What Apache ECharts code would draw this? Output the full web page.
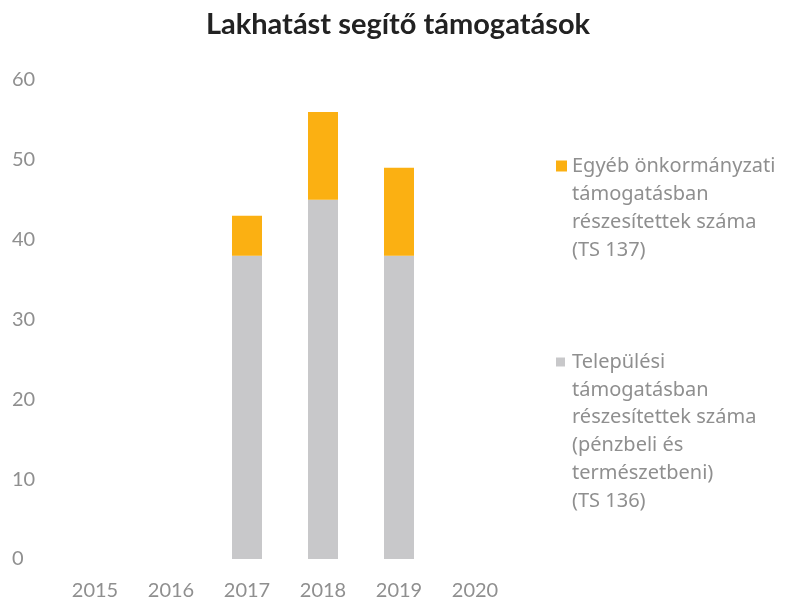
<!DOCTYPE html>
<html>
<head>
<meta charset="utf-8">
<script src="https://cdn.jsdelivr.net/npm/echarts@6/dist/echarts.min.js"></script>
<style>
html, body { margin: 0; padding: 0; background: #fff; }
#main { width: 786px; height: 601px; }
</style>
</head>
<body>
<div id="main"></div>
<script>
// adatok
var evek = ['2015', '2016', '2017', '2018', '2019', '2020'];
var telepulesi = [null, null, 38, 45, 38, null];
var egyeb = [null, null, 5, 11, 11, null];
var nevTelepulesi = 'Települési\ntámogatásban\nrészesítettek száma\n(pénzbeli és\ntermészetbeni)\n(TS 136)';
var nevEgyeb = 'Egyéb önkormányzati\ntámogatásban\nrészesítettek száma\n(TS 137)';

var szinTelepulesi = '#c8c8ca';
var szinEgyeb = '#fbb012';
var betu = 'Lato, "Noto Sans", sans-serif';
var jelBetu = '"Noto Sans", sans-serif';

var myChart = echarts.init(document.getElementById('main'));

// jelmagyarazat: a negyzet az elso sor elott, a tobbi sor behuzva
function jelmagyarazat(nev, szin, top, sorMagassag, meret) {
	return {
		data: [nev],
		orient: 'vertical',
		left: 551,
		top: top,
		padding: 0,
		itemWidth: 0,
		itemHeight: 9,
		icon: 'none',
		selectedMode: false,
		formatter: function (n) {
			return n.split('\n').map(function (sor, i) {
				return (i === 0 ? '{sq|}{gap|}' : '{ind|}') + '{t|' + sor + '}';
			}).join('\n');
		},
		textStyle: {
			padding: 0,
			rich: {
				sq: { width: meret, height: meret, backgroundColor: szin },
				gap: { width: 16 - meret },
				ind: { width: 16 },
				t: {
					fontFamily: jelBetu,
					fontSize: 20,
					color: '#8f8f8f',
					lineHeight: sorMagassag
				}
			}
		}
	};
}

var option = {
	animation: false,
	title: {
		text: 'Lakhatást segítő támogatások',
		left: 393,
		textAlign: 'center',
		top: 5,
		textStyle: {
			fontFamily: betu,
			fontSize: 29,
			fontWeight: 'bold',
			color: '#222'
		}
	},
	legend: [
		jelmagyarazat(nevEgyeb, szinEgyeb, 156, 28, 11),
		jelmagyarazat(nevTelepulesi, szinTelepulesi, 352, 27.8, 9)
	],
	grid: {
		left: 57,
		right: 273,
		top: 80,
		bottom: 40
	},
	xAxis: {
		type: 'category',
		data: evek,
		axisLine: { show: false },
		axisTick: { show: false },
		axisLabel: {
			margin: 22,
			fontFamily: betu,
			fontSize: 20,
			color: '#8f8f8f'
		}
	},
	yAxis: {
		type: 'value',
		min: 0,
		max: 60,
		interval: 10,
		splitLine: { show: false },
		axisLine: { show: false },
		axisTick: { show: false },
		axisLabel: {
			align: 'left',
			margin: 45,
			fontFamily: betu,
			fontSize: 20,
			color: '#8f8f8f'
		}
	},
	series: [{
		name: nevTelepulesi,
		type: 'bar',
		stack: 'ossz',
		barWidth: 30,
		itemStyle: { color: szinTelepulesi },
		data: telepulesi
	}, {
		name: nevEgyeb,
		type: 'bar',
		stack: 'ossz',
		barWidth: 30,
		itemStyle: { color: szinEgyeb },
		data: egyeb
	}]
};
myChart.setOption(option);
</script>
</body>
</html>
